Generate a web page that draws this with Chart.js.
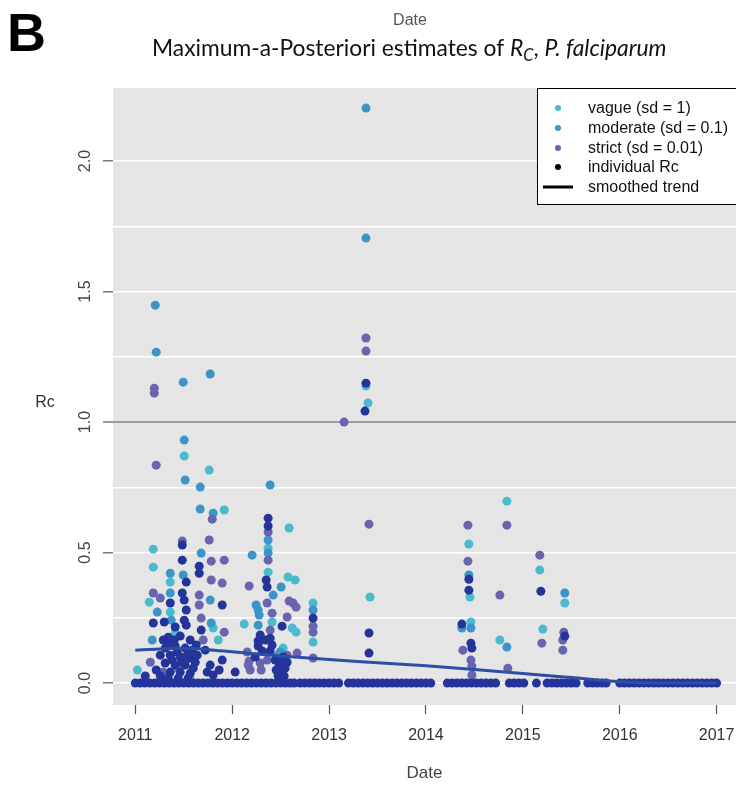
<!DOCTYPE html>
<html><head><meta charset="utf-8">
<script src="https://cdn.jsdelivr.net/npm/chart.js@4.4.1/dist/chart.umd.min.js"></script>
<style>html,body{margin:0;padding:0;background:#fff;}canvas{display:block;}</style>
</head><body>
<canvas id="c" width="736" height="786"></canvas>
<script>
// ---------- data ----------
const xTickYears = [2011, 2012, 2013, 2014, 2015, 2016, 2017];
const yGridValues = [0, 0.25, 0.5, 0.75, 1, 1.25, 1.5, 1.75, 2];
const yLabelValues = [0, 0.5, 1, 1.5, 2];
const seriesNames = ['vague (sd = 1)', 'moderate (sd = 0.1)', 'strict (sd = 0.01)', 'individual Rc', 'smoothed trend'];

const vagueX = [2011.505, 2011.763, 2011.918, 2011.186, 2011.186, 2011.361, 2011.144, 2011.361, 2011.804, 2011.856, 2011.021, 2011.567,
  2012.588, 2012.371, 2012.371, 2012.577, 2012.649, 2012.124, 2012.412, 2012.619, 2012.660, 2012.835, 2012.835, 2012.526,
  2013.381, 2013.402, 2013.423, 2014.443, 2014.454, 2014.464, 2014.835, 2014.763, 2015.175, 2015.206, 2015.433,
  2011.526, 2011.412];
const vagueY = [0.870, 0.816, 0.663, 0.513, 0.444, 0.387, 0.310, 0.272, 0.211, 0.165, 0.050, 0.019,
  0.594, 0.517, 0.425, 0.406, 0.395, 0.226, 0.234, 0.211, 0.195, 0.307, 0.157, 0.134,
  1.138, 1.073, 0.330, 0.533, 0.330, 0.234, 0.697, 0.165, 0.433, 0.207, 0.307,
  0.088, 0.192];

const moderateX = [2011.206, 2011.216, 2011.495, 2011.773, 2011.505, 2011.515, 2011.670, 2011.670, 2011.804, 2011.680, 2011.361, 2011.495,
  2011.361, 2011.773, 2011.227, 2011.371, 2011.784, 2011.175, 2012.392, 2012.206, 2012.371, 2012.371, 2012.505, 2012.423,
  2012.247, 2012.268, 2012.278, 2012.268, 2012.505, 2012.474, 2012.835, 2013.381, 2013.381, 2014.443, 2014.371, 2014.464,
  2014.835, 2015.433, 2011.443, 2012.495];
const moderateY = [1.448, 1.268, 1.153, 1.184, 0.931, 0.778, 0.751, 0.667, 0.651, 0.498, 0.421, 0.414,
  0.345, 0.318, 0.272, 0.241, 0.230, 0.165, 0.759, 0.490, 0.548, 0.498, 0.368, 0.337,
  0.299, 0.280, 0.261, 0.222, 0.088, 0.107, 0.280, 2.203, 1.705, 0.414, 0.211, 0.211,
  0.138, 0.345, 0.057, 0.119];

const strictX = [2011.196, 2011.196, 2011.216, 2011.794, 2011.485, 2011.763, 2011.918, 2011.784, 2011.784, 2011.897, 2011.660, 2011.258,
  2011.186, 2011.660, 2011.680, 2011.918, 2011.701, 2011.155, 2011.289, 2012.371, 2012.371, 2012.175, 2012.361, 2012.588,
  2012.629, 2012.660, 2012.412, 2012.392, 2012.567, 2012.835, 2012.835, 2012.835, 2012.567, 2012.670, 2012.155, 2012.175,
  2012.289, 2012.361, 2012.299, 2012.186, 2013.381, 2013.381, 2013.155, 2013.412, 2014.433, 2014.433, 2014.381, 2014.464,
  2014.474, 2014.474, 2014.763, 2014.835, 2014.845, 2015.175, 2015.196, 2015.423, 2015.412, 2015.412, 2012.165];
const strictY = [1.130, 1.111, 0.835, 0.628, 0.544, 0.548, 0.471, 0.467, 0.395, 0.383, 0.337, 0.326,
  0.345, 0.299, 0.249, 0.195, 0.165, 0.080, 0.042, 0.579, 0.471, 0.372, 0.307, 0.314,
  0.307, 0.291, 0.268, 0.203, 0.253, 0.218, 0.195, 0.096, 0.107, 0.115, 0.119, 0.084,
  0.077, 0.088, 0.050, 0.050, 1.322, 1.272, 1.000, 0.609, 0.605, 0.467, 0.126, 0.088,
  0.065, 0.031, 0.337, 0.605, 0.057, 0.490, 0.153, 0.195, 0.165, 0.126, 0.069];

const individualX = [2011.485, 2011.485, 2011.660, 2011.660, 2011.526, 2011.485, 2011.361, 2011.505, 2011.897, 2011.526, 2011.505, 2011.186,
  2011.299, 2011.412, 2011.526, 2011.680, 2011.340, 2011.464, 2011.567, 2011.309, 2011.412, 2011.515, 2011.588, 2011.361,
  2011.464, 2011.567, 2011.309, 2011.412, 2011.515, 2011.619, 2011.361, 2011.464, 2011.567, 2011.773, 2011.866, 2011.804,
  2011.443, 2011.258, 2012.371, 2012.371, 2012.351, 2012.361, 2012.835, 2012.515, 2012.289, 2012.268, 2012.340, 2012.392,
  2012.412, 2012.392, 2012.526, 2012.526, 2012.505, 2012.474, 2012.031, 2013.381, 2013.371, 2013.412, 2013.412, 2014.443,
  2014.443, 2014.371, 2014.464, 2014.474, 2015.186, 2015.433,
  2011.258, 2011.289, 2011.340, 2011.381, 2011.433, 2011.485, 2011.536, 2011.598, 2011.639, 2011.546, 2011.340, 2011.402,
  2011.629, 2011.722, 2011.742, 2011.897, 2011.216, 2011.103, 2012.443, 2012.485, 2012.546, 2012.454, 2012.536, 2012.567,
  2012.268, 2012.309, 2012.237];
const individualY = [0.529, 0.471, 0.448, 0.421, 0.387, 0.345, 0.307, 0.318, 0.299, 0.280, 0.241, 0.230,
  0.234, 0.215, 0.222, 0.203, 0.176, 0.180, 0.165, 0.134, 0.142, 0.134, 0.126, 0.107,
  0.100, 0.096, 0.077, 0.069, 0.069, 0.080, 0.042, 0.042, 0.038, 0.069, 0.050, 0.031,
  0.019, 0.027, 0.632, 0.602, 0.395, 0.368, 0.249, 0.218, 0.184, 0.161, 0.165, 0.172,
  0.146, 0.123, 0.100, 0.069, 0.046, 0.027, 0.042, 1.149, 1.042, 0.192, 0.115, 0.398,
  0.356, 0.226, 0.153, 0.134, 0.352, 0.180,
  0.107, 0.165, 0.146, 0.088, 0.119, 0.080, 0.107, 0.057, 0.107, 0.019, 0.019, 0.165,
  0.146, 0.126, 0.042, 0.088, 0.050, 0.027, 0.088, 0.073, 0.057, 0.050, 0.027, 0.080,
  0.142, 0.123, 0.100];

// dates of the individual estimates that sit at Rc = 0
const zeroRowDates = [2011.00, 2011.05, 2011.10, 2011.15, 2011.20, 2011.25, 2011.30, 2011.35, 2011.40, 2011.45, 2011.50, 2011.55,
  2011.60, 2011.65, 2011.70, 2011.75, 2011.80, 2011.85, 2011.90, 2011.95, 2012.00, 2012.05, 2012.10, 2012.15,
  2012.20, 2012.25, 2012.30, 2012.35, 2012.40, 2012.45, 2012.50, 2012.55, 2012.60, 2012.64, 2012.70, 2012.75,
  2012.80, 2012.85, 2012.90, 2012.95, 2013.00, 2013.05, 2013.10, 2013.20, 2013.25, 2013.30, 2013.35, 2013.40,
  2013.45, 2013.50, 2013.55, 2013.60, 2013.65, 2013.70, 2013.75, 2013.80, 2013.85, 2013.90, 2013.95, 2014.00,
  2014.05, 2014.22, 2014.27, 2014.32, 2014.37, 2014.42, 2014.47, 2014.52, 2014.57, 2014.62, 2014.67, 2014.72,
  2014.86, 2014.91, 2014.96, 2015.01, 2015.14, 2015.25, 2015.30, 2015.35, 2015.40, 2015.45, 2015.50, 2015.55,
  2015.67, 2015.72, 2015.77, 2015.82, 2015.86, 2016.00, 2016.05, 2016.10, 2016.15, 2016.20, 2016.25, 2016.30,
  2016.35, 2016.40, 2016.45, 2016.50, 2016.55, 2016.60, 2016.65, 2016.70, 2016.75, 2016.80, 2016.85, 2016.90,
  2016.95, 2017.00];
const zeroRowValues = zeroRowDates.map(() => 0);

const trendX = [2011.0, 2011.25, 2011.5, 2011.75, 2012.0, 2012.5, 2013.0, 2013.5, 2014.0, 2014.5, 2015.0, 2015.5, 2016.0, 2016.5, 2017.0];
const trendY = [0.126, 0.131, 0.133, 0.128, 0.120, 0.104, 0.090, 0.078, 0.066, 0.052, 0.037, 0.021, 0.005, 0.0, 0.0];

// ---------- styling ----------
const COLORS = { vague: '#4bbacd', moderate: '#3b95c7', strict: '#6864af', individual: '#25349b', trend: '#2b4fa4' };
const FONT = "'Liberation Sans', Arial, sans-serif";
const toPts = (xs, ys) => xs.map((x, i) => ({ x, y: ys[i] }));

const decor = {
  id: 'decor',
  beforeDraw(chart) {
    const { ctx, chartArea: a } = chart;
    ctx.save();
    ctx.fillStyle = '#ffffff';
    ctx.fillRect(0, 0, chart.width, chart.height);
    ctx.fillStyle = '#e5e5e5';
    ctx.fillRect(a.left, a.top, a.right - a.left, a.bottom - a.top);
    ctx.restore();
  },
  afterDraw(chart) {
    const { ctx } = chart;
    ctx.save();
    ctx.fillStyle = '#000';
    ctx.font = 'bold 54px ' + FONT;
    ctx.textBaseline = 'alphabetic';
    ctx.textAlign = 'left';
    ctx.fillText('B', 7, 51);
    ctx.fillStyle = '#555';
    ctx.font = '16px ' + FONT;
    ctx.textAlign = 'center';
    ctx.fillText('Date', 410, 25);
    const parts = [
      { t: 'Maximum-a-Posteriori estimates of ', it: false, sub: false },
      { t: 'R', it: true, sub: false },
      { t: 'C', it: true, sub: true },
      { t: ', ', it: false, sub: false },
      { t: 'P. falciparum', it: true, sub: false }
    ];
    const base = 20;
    const fontFor = (p, s) => (p.it ? 'italic ' : '') + (p.sub ? s * 0.72 : s) + "px Lato, 'Open Sans', sans-serif";
    let w = 0;
    parts.forEach(p => { ctx.font = fontFor(p, base); w += ctx.measureText(p.t).width; });
    const size = base * 515 / w;
    let x = 152;
    ctx.fillStyle = '#111';
    ctx.textAlign = 'left';
    parts.forEach(p => {
      ctx.font = fontFor(p, size);
      ctx.fillText(p.t, x, p.sub ? 61 : 56);
      x += ctx.measureText(p.t).width;
    });
    ctx.fillStyle = '#333';
    ctx.font = '16px ' + FONT;
    ctx.textAlign = 'center';
    ctx.fillText('Rc', 45, 407);
    const lx = 537.5, ly = 88.5;
    ctx.fillStyle = '#fff';
    ctx.fillRect(lx, ly, 205, 116);
    ctx.strokeStyle = '#000';
    ctx.lineWidth = 1;
    ctx.strokeRect(lx, ly, 205, 116);
    const marks = [COLORS.vague, COLORS.moderate, COLORS.strict, '#000', null];
    const rows = [108, 128, 148, 167, 187];
    ctx.font = '16px ' + FONT;
    ctx.textAlign = 'left';
    ctx.textBaseline = 'middle';
    seriesNames.forEach((name, i) => {
      const y = rows[i];
      if (marks[i]) {
        ctx.fillStyle = marks[i];
        ctx.beginPath(); ctx.arc(558, y, 3, 0, Math.PI * 2); ctx.fill();
      } else {
        ctx.strokeStyle = '#000'; ctx.lineWidth = 3;
        ctx.beginPath(); ctx.moveTo(543, y); ctx.lineTo(573, y); ctx.stroke();
      }
      ctx.fillStyle = '#111';
      ctx.fillText(name, 588, y + 1);
    });
    ctx.restore();
  }
};

const pointDs = (label, xs, ys, color) => ({
  type: 'scatter', label, data: toPts(xs, ys),
  backgroundColor: color, borderColor: color, borderWidth: 0,
  pointRadius: 4.5, pointHoverRadius: 4.5, showLine: false
});

new Chart(document.getElementById('c'), {
  type: 'scatter',
  data: {
    datasets: [
      {
        type: 'line', label: seriesNames[4], data: toPts(trendX, trendY),
        borderColor: COLORS.trend, borderWidth: 3, pointRadius: 0, fill: false,
        cubicInterpolationMode: 'monotone', tension: 0.4
      },
      pointDs(seriesNames[3], individualX.concat(zeroRowDates), individualY.concat(zeroRowValues), COLORS.individual),
      pointDs(seriesNames[2], strictX, strictY, COLORS.strict),
      pointDs(seriesNames[1], moderateX, moderateY, COLORS.moderate),
      pointDs(seriesNames[0], vagueX, vagueY, COLORS.vague)
    ]
  },
  options: {
    responsive: false,
    animation: false,
    events: [],
    layout: { autoPadding: false, padding: { top: 88, right: 0, left: 0, bottom: 0 } },
    plugins: { legend: { display: false }, tooltip: { enabled: false }, title: { display: false } },
    scales: {
      x: {
        type: 'linear', min: 2010.77, max: 2017.2,
        afterBuildTicks: s => { s.ticks = xTickYears.map(v => ({ value: v })); },
        afterFit: s => { s.height = 81; s.paddingRight = 0; s.paddingLeft = 0; },
        border: { display: false },
        grid: { drawOnChartArea: false, drawTicks: true, tickLength: 9, tickColor: '#555', tickWidth: 1.2 },
        ticks: { callback: v => String(v), color: '#333', font: { size: 16, family: FONT }, padding: 12, maxRotation: 0, autoSkip: false },
        title: { display: true, text: 'Date', color: '#444', font: { size: 17, family: FONT }, padding: { top: 0, bottom: 2 } }
      },
      y: {
        type: 'linear', min: -0.084, max: 2.28,
        afterBuildTicks: s => { s.ticks = yGridValues.map(v => ({ value: v })); },
        afterFit: s => { s.width = 113; s.paddingTop = 0; s.paddingBottom = 0; },
        border: { display: false },
        grid: {
          color: c => (c.tick && c.tick.value === 1) ? '#9c9c9c' : '#ffffff',
          lineWidth: c => (c.tick && c.tick.value === 1) ? 2 : 1.6,
          tickColor: c => (c.tick && yLabelValues.includes(c.tick.value)) ? '#555' : 'rgba(0,0,0,0)',
          tickLength: 10, tickWidth: 1.2, drawTicks: true
        },
        ticks: {
          callback: v => yLabelValues.includes(v) ? v.toFixed(1) : '',
          minRotation: 90, maxRotation: 90, crossAlign: 'center', padding: 6,
          color: '#444', font: { size: 16, family: FONT }, autoSkip: false
        }
      }
    }
  },
  plugins: [decor]
});
</script>
</body></html>
